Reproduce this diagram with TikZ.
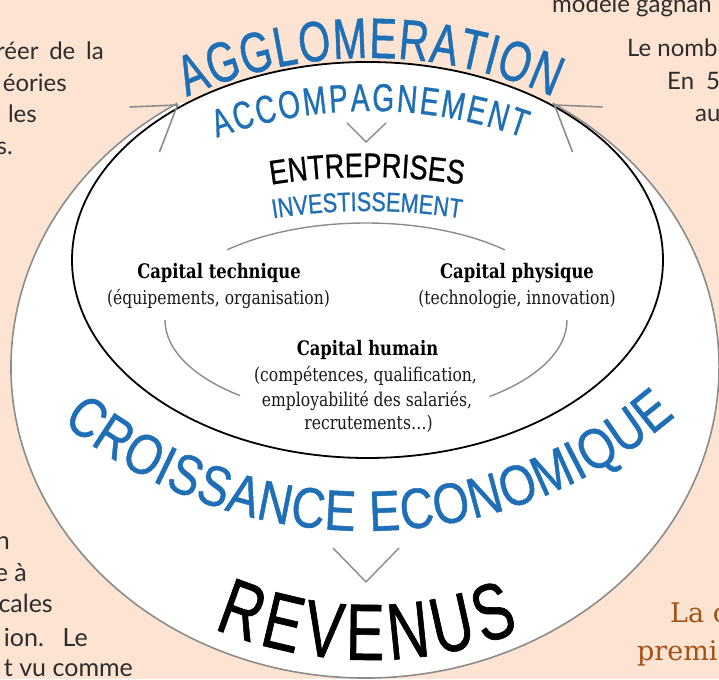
\documentclass[tikz,border=0pt]{standalone}
\usepackage{fontspec}
\usetikzlibrary{decorations.text,calc}
\setmainfont{DejaVu Serif}
\newfontfamily\condA[FakeStretch=0.72,FakeBold=0.8]{Liberation Sans}
\newfontfamily\condB[FakeStretch=0.80,FakeBold=0.8]{Liberation Sans}
\newfontfamily\condD[FakeStretch=0.82,FakeBold=0.8]{Liberation Sans}
\newfontfamily\capserif[FakeStretch=0.82]{DejaVu Serif}
\newfontfamily\bodysans{Lato}
\newfontfamily\bodyserif{DejaVu Serif}
\definecolor{peach}{RGB}{252,227,210}
\definecolor{diablue}{RGB}{30,111,182}
\definecolor{lgray}{RGB}{140,140,140}
\definecolor{bodytext}{RGB}{45,45,45}
\definecolor{brownish}{RGB}{166,80,20}
\newcommand\AGfont{\condA\fontsize{57}{60}\selectfont}
\newcommand\ACfont{\condA\fontsize{39}{44}\selectfont}
\newcommand\ENfont{\condB\fontsize{34}{38}\selectfont}
\newcommand\INfont{\condB\fontsize{27}{30}\selectfont}
\newcommand\CRfont{\condD\fontsize{57}{60}\selectfont}
\newcommand\REfont{\condA\fontsize{80}{84}\selectfont}
\tikzset{
  capt/.style={font=\capserif\bfseries\fontsize{20}{24}\selectfont, text=black, inner sep=0pt, anchor=base},
  capd/.style={font=\capserif\fontsize{19}{24}\selectfont, text=black!90, inner sep=0pt, anchor=base},
  frag/.style={font=\bodysans\fontsize{24}{28}\selectfont, text=bodytext, inner sep=0pt},
  fragb/.style={font=\bodysans\fontsize{25}{30}\selectfont, text=bodytext, inner sep=0pt},
  brownfrag/.style={font=\bodyserif\fontsize{27}{30}\selectfont, text=brownish, inner sep=0pt, anchor=base west},
  grayline/.style={draw=lgray, line width=1.6pt},
  thingray/.style={draw=lgray, line width=1.4pt},
  blackline/.style={draw=black, line width=1.8pt}
}
\begin{document}
\begin{tikzpicture}[x=1pt,y=1pt]
\useasboundingbox (0,0) rectangle (719,679);
\clip (0,0) rectangle (719,679);
\fill[peach] (0,0) rectangle (719,679);

% background text fragments
\node[frag, anchor=base east] (tl1) at (104,619) {réer\hspace{0.45em}de\hspace{0.45em}la};
\node[frag, anchor=base east] (tl2) at (67,587) {éories};
\node[frag, anchor=base east] (tl3) at (37,556) {les};
\node[frag, anchor=base east] (tl4) at (13,524) {s.};
\node[frag, anchor=base west] (tr1) at (552,666) {modèle gagnan};
\node[frag, anchor=base west] (tr2) at (627,622) {Le nomb};
\node[frag, anchor=base west] (tr3) at (667,589) {En\hspace{0.5em}5};
\node[frag, anchor=base west] (tr4) at (695,557) {au};
\node[fragb, anchor=base east] (bl1) at (10,129) {n};
\node[fragb, anchor=base east] (bl2) at (27,97) {e à};
\node[fragb, anchor=base east] (bl3) at (53,66) {cales};
\node[fragb, anchor=base east] (bl4) at (88,32) {ion.\hspace{0.75em}Le};
\node[fragb, anchor=base east] (bl5) at (133,2) {t vu comme};
\node[brownfrag] (br1) at (670,56) {La c};
\node[brownfrag] (br2) at (637,19) {premi};

% big white region with grey arc
\fill[white] (365,312) ++(122:354pt and 311pt) arc[start angle=122, end angle=418, x radius=354pt, y radius=311pt] -- cycle;
\draw[grayline] (365,312) ++(122:354pt and 311pt) arc[start angle=122, end angle=418, x radius=354pt, y radius=311pt];

% inner ellipse
\fill[white] (367.5,419) ellipse [x radius=295.5pt, y radius=198pt];
\draw[blackline] (367.5,419) ellipse [x radius=295.5pt, y radius=198pt];

% chevrons at the ends of the grey arc
\coordinate (apexL) at (177.5,574);
\coordinate (apexR) at (554.5,574);
\draw[grayline] ($(apexL)+(-48,-2)$) -- (apexL) -- ($(apexL)+(-18,-47)$);
\draw[grayline] ($(apexR)+(48,-2)$) -- (apexR) -- ($(apexR)+(18,-47)$);

% grey cycle among the capitals
\draw[thingray] (366,359) ++(133.7:201pt and 97pt) arc[start angle=133.7, end angle=46.3, x radius=201pt, y radius=97pt];
\draw[thingray] (366,359) ++(180:201pt and 97pt) arc[start angle=180, end angle=231.2, x radius=201pt, y radius=97pt];
\draw[thingray] (366,359) ++(308:201pt and 97pt) arc[start angle=308, end angle=360, x radius=201pt, y radius=97pt];

% small chevrons
\coordinate (vt1) at (347,556);
\coordinate (vt2) at (366,537);
\coordinate (vt3) at (386,556);
\draw[thingray] (vt1) -- (vt2) -- (vt3);
\coordinate (vb1) at (333,131);
\coordinate (vb2) at (366,97);
\coordinate (vb3) at (399,131);
\draw[thingray] (vb1) -- (vb2) -- (vb3);

% arched titles
\path[decorate, decoration={text along path, text align={fit to path},
  text={|\AGfont\color{diablue}|AGGLOMERATION}}]
  (370,171) ++(114:450pt) arc[start angle=114, end angle=66, radius=450pt];
\path[decorate, decoration={text along path, text align={fit to path},
  text={|\ACfont\color{diablue}|ACCOMPAGNEMENT}}]
  (370,116) ++(109.8:452pt) arc[start angle=109.8, end angle=70.2, radius=452pt];
\path[decorate, decoration={text along path, text align={fit to path},
  text={|\ENfont\color{black}|ENTREPRISES}}]
  (367,-98) ++(99.2:600pt) arc[start angle=99.2, end angle=80.8, radius=600pt];
\path[decorate, decoration={text along path, text align={fit to path},
  text={|\INfont\color{diablue}|INVESTISSEMENT}}]
  (367,-132) ++(99:600pt) arc[start angle=99, end angle=81, radius=600pt];
\path[decorate, decoration={text along path, text align={fit to path},
  text={|\CRfont\color{diablue}|CROISSANCE ECONOMIQUE}}]
  (365,625) ++(230.6:477pt) arc[start angle=230.6, end angle=310.6, radius=477pt];
\path[decorate, decoration={text along path, text align={fit to path},
  text={|\REfont\color{black}|REVENUS}}]
  (370,422) ++(247.2:403pt) arc[start angle=247.2, end angle=291.8, radius=403pt];

% capitals
\node[capt] (ct1) at (219,400) {Capital technique};
\node[capd] (ct2) at (218.5,374) {(équipements, organisation)};
\node[capt] (cp1) at (517,400) {Capital physique};
\node[capd] (cp2) at (517,374) {(technologie, innovation)};
\node[capt] (ch1) at (367.5,323) {Capital humain};
\node[capd] (ch2) at (365.5,297) {(compétences, qualification,};
\node[capd] (ch3) at (367,272) {employabilité des salariés,};
\node[capd] (ch4) at (368.5,249) {recrutements…)};
\end{tikzpicture}
\end{document}
